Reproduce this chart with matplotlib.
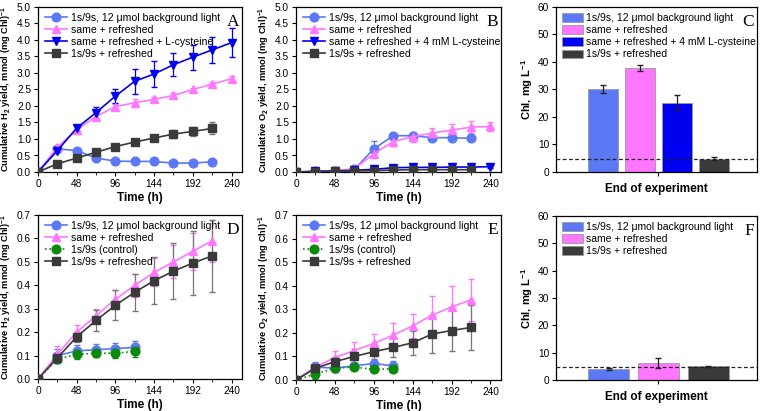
import matplotlib
matplotlib.use("Agg")
import matplotlib.pyplot as plt
import numpy as np

plt.rcParams['font.family'] = ['Liberation Sans', 'DejaVu Sans']
plt.rcParams['mathtext.fontset'] = 'custom'
plt.rcParams['mathtext.bf'] = 'Liberation Sans:bold'
plt.rcParams['mathtext.rm'] = 'Liberation Sans'

# colours
c_lblue = "#5b78f5"
c_pink = "#ff77ff"
c_blue = "#0000f0"
c_gray = "#3a3a3a"
c_green = "#0a8a0a"

# ---------- data: panel A (H2) ----------
tA = [0, 24, 48, 72, 96, 120, 144, 168, 192, 216, 240]
A_bg = [0, 0.70, 0.65, 0.42, 0.33, 0.32, 0.32, 0.27, 0.27, 0.31]
A_bg_err = [0, 0.03, 0.04, 0.04, 0.03, 0.03, 0.03, 0.03, 0.03, 0.03]
A_ref = [0, 0.75, 1.28, 1.68, 1.98, 2.10, 2.20, 2.32, 2.50, 2.66, 2.83]
A_ref_err = [0, 0.05, 0.06, 0.08, 0.08, 0.12, 0.08, 0.06, 0.06, 0.06, 0.08]
A_cys = [0, 0.65, 1.33, 1.80, 2.30, 2.75, 2.97, 3.25, 3.48, 3.70, 3.92]
A_cys_err = [0, 0.05, 0.08, 0.18, 0.20, 0.38, 0.40, 0.35, 0.38, 0.40, 0.43]
A_rf = [0, 0.25, 0.42, 0.60, 0.77, 0.91, 1.03, 1.15, 1.23, 1.32]
A_rf_err = [0, 0.02, 0.03, 0.04, 0.05, 0.08, 0.05, 0.12, 0.14, 0.18]

# ---------- data: panel B (O2) ----------
B_bg = [0, 0.02, 0.03, 0.08, 0.70, 1.10, 1.10, 1.04, 1.04, 1.02]
B_bg_err = [0, 0.01, 0.01, 0.03, 0.25, 0.05, 0.08, 0.05, 0.04, 0.04]
B_ref = [0, 0.02, 0.03, 0.10, 0.55, 0.92, 1.07, 1.18, 1.27, 1.36, 1.38]
B_ref_err = [0, 0.06, 0.08, 0.06, 0.10, 0.12, 0.15, 0.15, 0.18, 0.18, 0.15]
B_cys = [0, 0.02, 0.03, 0.05, 0.08, 0.13, 0.14, 0.14, 0.15, 0.15, 0.16]
B_cys_err = [0, 0.01, 0.01, 0.02, 0.02, 0.03, 0.03, 0.03, 0.03, 0.03, 0.03]
B_rf = [0, 0.01, 0.02, 0.03, 0.04, 0.06, 0.07, 0.07, 0.07, 0.07]
B_rf_err = [0, 0.01, 0.01, 0.01, 0.02, 0.02, 0.02, 0.02, 0.02, 0.02]

# ---------- data: panel C (Chl) ----------
C_vals = [30.2, 37.9, 25.2, 4.9]
C_err = [1.3, 1.0, 2.8, 0.5]
C_labels = ["1s/9s, 12 μmol background light", "same + refreshed",
            "same + refreshed + 4 mM L-cysteine", "1s/9s + refreshed"]
C_colors = [c_lblue, c_pink, c_blue, c_gray]
chl_start = 4.6

# ---------- data: panel D (H2) ----------
tD = [0, 24, 48, 72, 96, 120, 144, 168, 192, 216]
D_bg = [0, 0.100, 0.120, 0.125, 0.130, 0.135]
D_bg_err = [0, 0.030, 0.025, 0.025, 0.022, 0.028]
D_ref = [0, 0.105, 0.200, 0.270, 0.340, 0.400, 0.455, 0.500, 0.545, 0.590]
D_ref_err = [0, 0.035, 0.030, 0.030, 0.040, 0.050, 0.060, 0.070, 0.080, 0.090]
D_ctl = [0, 0.085, 0.105, 0.110, 0.110, 0.118]
D_ctl_err = [0, 0.015, 0.018, 0.018, 0.020, 0.022]
D_rf = [0, 0.090, 0.180, 0.250, 0.315, 0.370, 0.420, 0.460, 0.495, 0.525]
D_rf_err = [0, 0.010, 0.020, 0.045, 0.065, 0.080, 0.100, 0.120, 0.135, 0.155]

# ---------- data: panel E (O2) ----------
E_bg = [0, 0.055, 0.050, 0.060, 0.070, 0.060]
E_bg_err = [0, 0.020, 0.015, 0.015, 0.020, 0.020]
E_ref = [0, 0.055, 0.095, 0.125, 0.155, 0.190, 0.230, 0.275, 0.310, 0.340]
E_ref_err = [0, 0.015, 0.030, 0.035, 0.040, 0.050, 0.050, 0.080, 0.090, 0.090]
E_ctl = [0, 0.025, 0.050, 0.055, 0.045, 0.048]
E_ctl_err = [0, 0.020, 0.015, 0.012, 0.012, 0.012]
E_rf = [0, 0.050, 0.078, 0.100, 0.120, 0.138, 0.158, 0.195, 0.210, 0.223]
E_rf_err = [0, 0.015, 0.020, 0.030, 0.035, 0.040, 0.050, 0.080, 0.085, 0.095]

# ---------- data: panel F (Chl) ----------
F_vals = [4.1, 6.2, 5.0]
F_err = [0.3, 1.7, 0.2]
F_labels = ["1s/9s, 12 μmol background light", "same + refreshed", "1s/9s + refreshed"]
F_colors = [c_lblue, c_pink, c_gray]

W, H = 763, 411
fig = plt.figure(figsize=(W / 100, H / 100), dpi=100)


def box(l, r, t, b):
    return fig.add_axes([l / W, 1 - b / H, (r - l) / W, (b - t) / H])


def style(ax):
    ax.tick_params(labelsize=7.3, length=3, direction='out', top=False, right=False, pad=2)
    ax.tick_params(which='minor', length=2)
    for s in ax.spines.values():
        s.set_linewidth(0.9)


def letter_txt(ax, letter):
    ax.text(0.985, 0.955, letter, transform=ax.transAxes, ha='right', va='top',
            fontsize=12.5, family='Liberation Serif')


def line(ax, t, y, e, color, marker, label, ls='-', ecolor=None):
    tt = t[:len(y)]
    ax.errorbar(tt, y, yerr=e, fmt='none', capsize=2, elinewidth=0.9,
                ecolor=ecolor or color, zorder=2)
    ax.plot(tt, y, color=color, marker=marker, ms=6.3, lw=1.2, ls=ls,
            label=label, zorder=3)


def time_axes(ax, ymax, ystep, ylab, letter):
    style(ax)
    ax.set_xlim(0, 253)
    ax.set_xticks(np.arange(0, 241, 48))
    ax.set_xticks(np.arange(24, 241, 48), minor=True)
    ax.set_ylim(0, ymax)
    ax.set_yticks(np.arange(0, ymax + 1e-9, ystep))
    ax.yaxis.set_major_formatter(matplotlib.ticker.FormatStrFormatter('%.1f'))
    ax.set_xlabel("Time (h)", fontsize=8.5, fontweight='bold', labelpad=2)
    ax.set_ylabel(ylab, fontsize=6.7, fontweight='bold', labelpad=2)
    letter_txt(ax, letter)
    ax.legend(loc='upper left', frameon=False, fontsize=7.6, handlelength=2.0,
              handletextpad=0.4, labelspacing=0.2, borderaxespad=0.3,
              bbox_to_anchor=(0.0, 1.01))


h2lab = r"Cumulative H$_\mathbf{2}$ yield, mmol (mg Chl)$^\mathbf{-1}$"
o2lab = r"Cumulative O$_\mathbf{2}$ yield, mmol (mg Chl)$^\mathbf{-1}$"

# Panel A
ax = box(38, 242, 7, 172)
line(ax, tA, A_bg, A_bg_err, c_lblue, 'o', C_labels[0])
line(ax, tA, A_ref, A_ref_err, c_pink, '^', "same + refreshed")
line(ax, tA, A_cys, A_cys_err, c_blue, 'v', "same + refreshed + L-cysteine")
line(ax, tA, A_rf, A_rf_err, c_gray, 's', "1s/9s + refreshed", ecolor="#777777")
time_axes(ax, 5.0, 0.5, h2lab, "A")

# Panel B
ax = box(296, 501, 7, 172)
line(ax, tA, B_bg, B_bg_err, c_lblue, 'o', C_labels[0])
line(ax, tA, B_ref, B_ref_err, c_pink, '^', "same + refreshed")
line(ax, tA, B_cys, B_cys_err, c_blue, 'v', "same + refreshed + 4 mM L-cysteine")
line(ax, tA, B_rf, B_rf_err, c_gray, 's', "1s/9s + refreshed", ecolor="#777777")
time_axes(ax, 5.0, 0.5, o2lab, "B")

# Panel D
ax = box(38, 242, 215, 379)
line(ax, tD, D_bg, D_bg_err, c_lblue, 'o', C_labels[0])
line(ax, tD, D_ref, D_ref_err, c_pink, '^', "same + refreshed")
line(ax, tD, D_ctl, D_ctl_err, c_green, 'o', "1s/9s (control)", ls=':')
line(ax, tD, D_rf, D_rf_err, c_gray, 's', "1s/9s + refreshed", ecolor="#777777")
time_axes(ax, 0.7, 0.1, h2lab, "D")

# Panel E
ax = box(296, 501, 215, 380)
line(ax, tD, E_bg, E_bg_err, c_lblue, 'o', C_labels[0])
line(ax, tD, E_ref, E_ref_err, c_pink, '^', "same + refreshed")
line(ax, tD, E_ctl, E_ctl_err, c_green, 'o', "1s/9s (control)", ls=':')
line(ax, tD, E_rf, E_rf_err, c_gray, 's', "1s/9s + refreshed", ecolor="#777777")
time_axes(ax, 0.7, 0.1, o2lab, "E")


def bar_axes(ax, vals, errs, labels, colors, width, xlim, letter):
    style(ax)
    x = np.arange(len(vals))
    for i in range(len(vals)):
        ax.bar(x[i], vals[i], width, yerr=errs[i], color=colors[i], edgecolor="#999999",
               linewidth=0.6, capsize=2, error_kw=dict(elinewidth=0.9, ecolor="#222222"),
               label=labels[i], zorder=2)
    ax.axhline(chl_start, color="#222222", ls=(0, (3, 2)), lw=0.9, zorder=3)
    ax.set_xlim(*xlim)
    ax.set_xticks([(len(vals) - 1) / 2])
    ax.set_xticklabels([""])
    ax.set_ylim(0, 60)
    ax.set_yticks(np.arange(0, 61, 10))
    ax.set_xlabel("End of experiment", fontsize=8.5, fontweight='bold', labelpad=3)
    ax.set_ylabel(r"Chl, mg L$^\mathbf{-1}$", fontsize=8, fontweight='bold', labelpad=2)
    letter_txt(ax, letter)
    ax.legend(loc='upper left', frameon=False, fontsize=7.5, handlelength=2.0,
              handleheight=0.9, handletextpad=0.3, labelspacing=0.2,
              borderaxespad=0.2, bbox_to_anchor=(0.0, 1.0))


ax = box(556, 757, 7, 172)
bar_axes(ax, C_vals, C_err, C_labels, C_colors, 0.81, (-1.26, 4.16), "C")

ax = box(556, 757, 216, 380)
bar_axes(ax, F_vals, F_err, F_labels, F_colors, 0.83, (-1.06, 2.98), "F")

fig.savefig("out.png", dpi=100)
